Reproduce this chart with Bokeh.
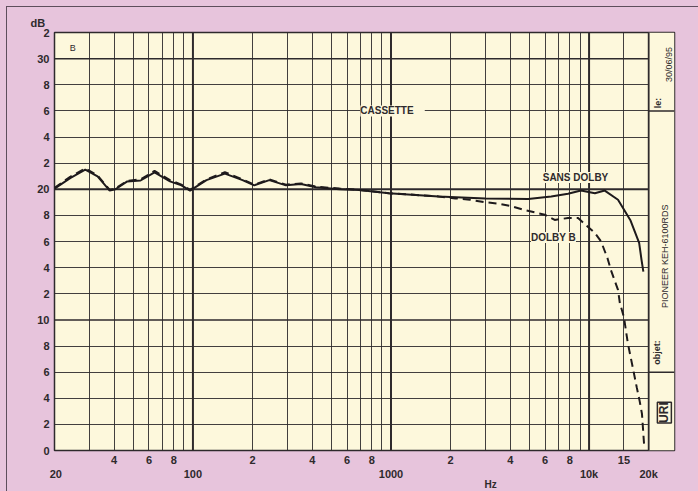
import math
from bokeh.plotting import figure
from bokeh.models import (Range1d, FixedTicker, Span, Label, LogAxis, Title,
                          GlobalInlineStyleSheet)
from bokeh.embed import file_html
from bokeh.resources import INLINE

# ---------------- data ----------------
solid_freq = [20, 24, 28.6, 33, 38, 40.6, 46.6, 54.4, 64, 76.6, 87.5, 96.7, 117, 145,
              178, 204, 243, 295, 351, 418, 550, 690, 975, 1740, 2990, 4930, 6440,
              7830, 9100, 10700, 12000, 14000, 16200, 17900, 18400, 18800]
solid_db = [20.05, 20.85, 21.5, 20.98, 19.9, 20.0, 20.6, 20.67, 21.3, 20.6, 20.3, 19.9,
            20.7, 21.2, 20.7, 20.3, 20.7, 20.3, 20.4, 20.15, 20.0, 19.95, 19.7, 19.45,
            19.3, 19.25, 19.45, 19.65, 19.9, 19.7, 19.9, 19.2, 17.6, 15.9, 14.6, 13.7]

dolby_freq = [20, 24, 28.6, 33, 38, 40.6, 46.6, 54.4, 64, 76.6, 87.5, 96.7, 117, 145,
              178, 204, 243, 295, 351, 418, 550, 690, 975, 1740, 2110, 2500, 3000,
              3500, 4050, 4750, 5980, 6710, 7830, 8800, 9650, 10700, 11500, 12400,
              12900, 14000, 14300, 15000, 15700, 16600, 17400, 18000, 18500, 18900, 19000]
dolby_db = [20.1, 20.95, 21.6, 21.05, 19.95, 20.05, 20.65, 20.75, 21.4, 20.7, 20.35,
            19.95, 20.75, 21.3, 20.75, 20.35, 20.75, 20.35, 20.45, 20.2, 20.05, 19.95,
            19.7, 19.45, 19.3, 19.2, 19.0, 18.9, 18.7, 18.4, 18.05, 17.65, 17.8, 17.8,
            17.25, 16.65, 16.0, 14.7, 13.8, 12.3, 11.3, 10.2, 8.2, 6.4, 4.85, 3.8, 2.8,
            0.75, 0.3]

y_ticks = [0, 2, 4, 6, 8, 10, 12, 14, 16, 18, 20, 22, 24, 26, 28, 30, 32]
y_tick_labels = ["0", "2", "4", "6", "8", "10", "2", "4", "6", "8", "20",
                 "2", "4", "6", "8", "30", "2"]

x_grid = [30, 40, 50, 60, 70, 80, 90, 200, 300, 400, 500, 600, 700, 800, 900,
          2000, 3000, 4000, 5000, 6000, 7000, 8000, 9000, 15000]
x_decades = [100, 1000, 10000]
x_minor_ticks = [40, 60, 80, 200, 400, 600, 800, 2000, 4000, 6000, 8000, 15000]
x_minor_labels = ["4", "6", "8", "2", "4", "6", "8", "2", "4", "6", "8", "15"]
x_major_ticks = [20.3, 100, 1000, 10000, 20000]
x_major_labels = ["20", "100", "1000", "10k", "20k"]
x_unit_tick = [3184]
x_unit_label = ["Hz"]

f_min, f_max, f_panel_end = 20, 20000, 27000
db_min, db_max = 0, 32

PINK = "#e7c4dc"
CREAM = "#fdf8dc"
INK = "#2e2a2c"
FONT = "Liberation Sans"

p = figure(x_axis_type="log", x_range=Range1d(f_min, f_panel_end),
           y_range=Range1d(db_min, db_max),
           frame_width=620, frame_height=418,
           min_border_left=54, min_border_right=24, min_border_top=32,
           min_border_bottom=41,
           output_backend="svg", toolbar_location=None,
           background_fill_color=CREAM, border_fill_color=PINK)
css = ("body{background-color:%s;}"
       "body::before{content:'';position:fixed;left:6px;top:6px;width:3000px;"
       "height:3000px;border-left:1.5px solid #5e4e5c;border-top:1.5px solid #5e4e5c;"
       "pointer-events:none;z-index:100;}") % PINK
p.stylesheets = [GlobalInlineStyleSheet(css=css)]
p.outline_line_color = INK
p.outline_line_width = 1.5

def style_axis(ax, standoff, size="11px"):
    ax.axis_line_color = None
    ax.major_tick_line_color = None
    ax.minor_tick_line_color = None
    ax.major_tick_out = 0
    ax.major_tick_in = 0
    ax.major_label_standoff = standoff
    ax.major_label_text_font = FONT
    ax.major_label_text_font_style = "bold"
    ax.major_label_text_font_size = size
    ax.major_label_text_color = INK

# y axis
p.yaxis.ticker = FixedTicker(ticks=y_ticks)
p.yaxis.major_label_overrides = {t: l for t, l in zip(y_ticks, y_tick_labels)}
style_axis(p.yaxis[0], 5)

# x axes: digit labels, then decade labels underneath, then the unit
p.xaxis.ticker = FixedTicker(ticks=x_minor_ticks)
p.xaxis.major_label_overrides = {t: l for t, l in zip(x_minor_ticks, x_minor_labels)}
style_axis(p.xaxis[0], 5)

ax2 = LogAxis(ticker=FixedTicker(ticks=x_major_ticks),
              major_label_overrides={t: l for t, l in zip(x_major_ticks, x_major_labels)})
style_axis(ax2, 1)
p.add_layout(ax2, "below")

ax3 = LogAxis(ticker=FixedTicker(ticks=x_unit_tick),
              major_label_overrides={t: l for t, l in zip(x_unit_tick, x_unit_label)})
style_axis(ax3, -4, size="10px")
p.add_layout(ax3, "below")

p.title = Title(text="dB", align="left", offset=-24, text_font=FONT,
                text_font_size="11px", text_font_style="bold", text_color=INK,
                standoff=6, vertical_align="middle")

# grid
p.xgrid.ticker = FixedTicker(ticks=x_grid)
p.xgrid.grid_line_color = INK
p.xgrid.grid_line_width = 1
p.xgrid.grid_line_alpha = 0.9
p.ygrid.ticker = FixedTicker(ticks=[t for t in y_ticks[1:-1] if t not in (10, 20, 30)])
p.ygrid.grid_line_color = INK
p.ygrid.grid_line_width = 1
p.ygrid.grid_line_alpha = 0.9

for f in x_decades:
    p.add_layout(Span(location=f, dimension="height", line_color=INK, line_width=2,
                      level="underlay"))
for d, w in ((10, 1.5), (20, 2.2), (30, 1.5)):
    p.add_layout(Span(location=d, dimension="width", line_color=INK, line_width=w,
                      level="underlay"))

# right-hand info panel
p.quad(left=[f_max], right=[f_panel_end], bottom=[db_min], top=[db_max],
       fill_color=CREAM, line_color=None)
p.segment(x0=[f_max, f_max], x1=[f_panel_end, f_panel_end], y0=[26, 6], y1=[26, 6],
          line_color=INK, line_width=1.5)
p.add_layout(Span(location=f_max, dimension="height", line_color=INK, line_width=1.8))

# curves
p.line(solid_freq, solid_db, line_color="#1e1a1c", line_width=2)
p.line(dolby_freq, dolby_db, line_color="#1e1a1c", line_width=2, line_dash="8 5")

def lab(x, y, text, size="10px", style="bold", bg=None, angle=0.0, align="center",
        color=INK, font=FONT, border=None):
    p.add_layout(Label(x=x, y=y, text=text, text_font=font, text_font_size=size,
                       text_font_style=style, text_color=color, text_align=align,
                       text_baseline="middle", angle=angle,
                       background_fill_color=bg, border_line_color=border,
                       border_line_width=1.5))

# annotations
lab(24.7, 30.85, "B", size="9px", style="normal")
lab(1018, 26.0, "  CASSETTE  ", size="10px", bg=CREAM)
lab(8540, 20.9, "SANS DOLBY", size="10px", bg=CREAM)
lab(6610, 16.3, "DOLBY B", size="10px", bg=CREAM)

# panel texts (rotated)
rot = math.pi / 2
lab(25300, 29.55, "30/06/95", size="9px", style="normal", angle=rot)
lab(22300, 26.6, "le:", size="9px", style="bold", angle=rot)
lab(24300, 14.97, "PIONEER  KEH-6100RDS", size="9px", style="normal", angle=rot)
lab(22100, 7.5, "objet:", size="9px", style="bold", angle=rot)
lab(24000, 2.9, "URI", size="12px", style="bold", angle=rot, border=INK)

open("out.html", "w").write(file_html(p, INLINE))
